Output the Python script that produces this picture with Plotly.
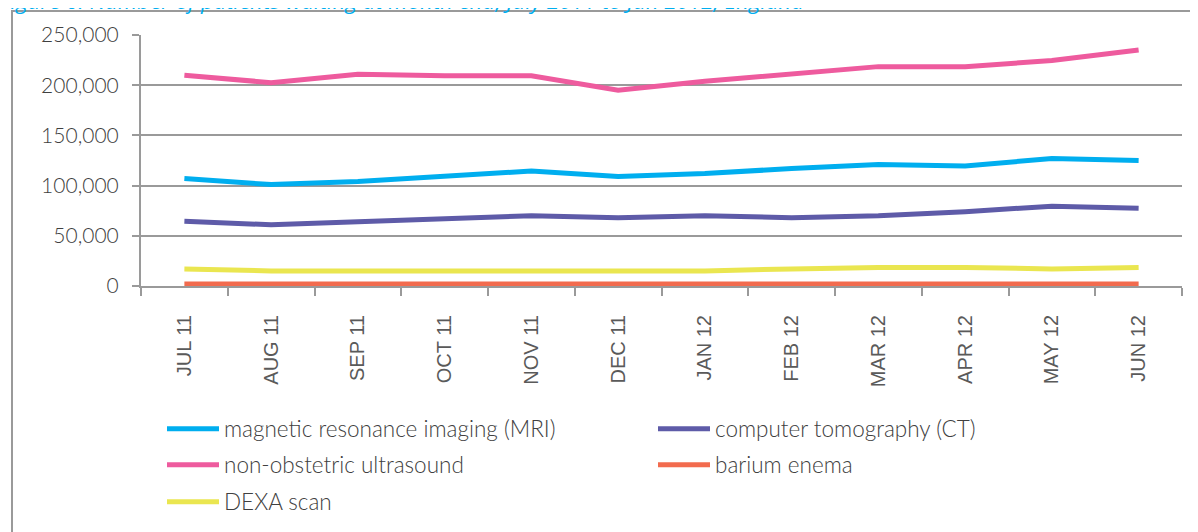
import plotly.graph_objects as go

months = ["JUL 11", "AUG 11", "SEP 11", "OCT 11", "NOV 11", "DEC 11",
          "JAN 12", "FEB 12", "MAR 12", "APR 12", "MAY 12", "JUN 12"]

mri = [107000, 101000, 104000, 109000, 114500, 109000, 112000, 117000, 121000, 119500, 127000, 125000]
ct = [64500, 61000, 64000, 66500, 70000, 68000, 70000, 68000, 70000, 74000, 79500, 77500]
ultrasound = [210000, 202500, 211000, 209500, 209500, 195000, 204000, 211500, 218500, 218500, 224500, 235000]
barium = [2000, 2000, 2000, 2000, 2000, 2000, 3000, 2000, 3000, 3000, 2000, 2000]
dexa = [17000, 15000, 15000, 15000, 15000, 15000, 15000, 17000, 18500, 18500, 17000, 18500]

series = [
    ("magnetic resonance imaging (MRI)", mri, "#00AEEF", "legend"),
    ("computer tomography (CT)", ct, "#5E5BA8", "legend"),
    ("non-obstetric ultrasound", ultrasound, "#EE5B9E", "legend2"),
    ("barium enema", barium, "#F26B4E", "legend2"),
    ("DEXA scan", dexa, "#EAE650", "legend3"),
]

y_ticks = [0, 50000, 100000, 150000, 200000, 250000]
y_ticktext = ["0" if v == 0 else f"{v:,}" for v in y_ticks]

title_text = "Figure 6: Number of patients waiting at month end, July 2011 to Jun 2012, England"

# page has an 8px body margin; figure coordinates = screenshot - 8
W, H = 1198, 532
ML, MR, MT = 133, 24, 27
MB = H - 278
PW = W - ML - MR
PH = H - MT - MB

fig = go.Figure()
for name, vals, color, leg in series:
    fig.add_trace(go.Scatter(
        x=months, y=vals, name=name, mode="lines",
        line=dict(color=color, width=5),
        legend=leg,
    ))

grey = "#9a9a9a"
text_col = "#404040"
lfont = dict(family="Lato", size=22.5, color=text_col, weight=300)

def leg(ypx):
    return dict(
        orientation="h", xref="container", yref="container",
        x=154 / W, y=1 - ypx / H, xanchor="left", yanchor="middle",
        entrywidth=424, entrywidthmode="pixels", itemwidth=52,
        font=lfont, bgcolor="rgba(0,0,0,0)", borderwidth=0,
        traceorder="normal",
    )

fig.update_layout(
    width=W, height=H,
    margin=dict(l=ML, r=MR, t=MT, b=MB, autoexpand=False),
    paper_bgcolor="white", plot_bgcolor="white",
    showlegend=True,
    legend=leg(421),
    legend2=leg(457),
    legend3=leg(494),
    xaxis=dict(
        type="category", range=[-0.5, 11.5], tickson="boundaries",
        ticks="outside", ticklen=8, tickwidth=2, tickcolor=grey,
        showline=True, linecolor=grey, linewidth=2, showgrid=False,
        tickangle=-90, layer="below traces", automargin=False,
        tickfont=dict(family="Liberation Sans", size=20, color="#5a5a5a"),
        ticklabelstandoff=19,
    ),
    yaxis=dict(
        range=[0, 250000], tickvals=y_ticks, ticktext=y_ticktext,
        ticks="outside", ticklen=7, tickwidth=2, tickcolor=grey,
        showline=True, linecolor=grey, linewidth=2,
        showgrid=True, gridcolor=grey, gridwidth=2, zeroline=False,
        layer="below traces", automargin=False,
        tickfont=dict(family="Lato", size=21, color=text_col, weight=300),
        ticklabelstandoff=9,
    ),
)

# outer frame around the chart
fig.add_shape(
    type="rect", xref="paper", yref="paper",
    x0=(4 - ML) / PW, x1=(W + 20 - ML) / PW,
    y0=(H - MB - (H + 20)) / PH, y1=(H - MB - 3) / PH,
    line=dict(color=grey, width=2), fillcolor="rgba(0,0,0,0)", layer="below",
)

# clipped caption at top
fig.add_annotation(
    text=title_text, xref="paper", yref="paper",
    x=(-10 - ML) / PW, y=(H - MB - 10) / PH, xanchor="left", yanchor="bottom",
    showarrow=False,
    font=dict(family="Open Sans", size=22.2, color="#00AEEF", style="italic"),
)

fig.write_html("out.html")
